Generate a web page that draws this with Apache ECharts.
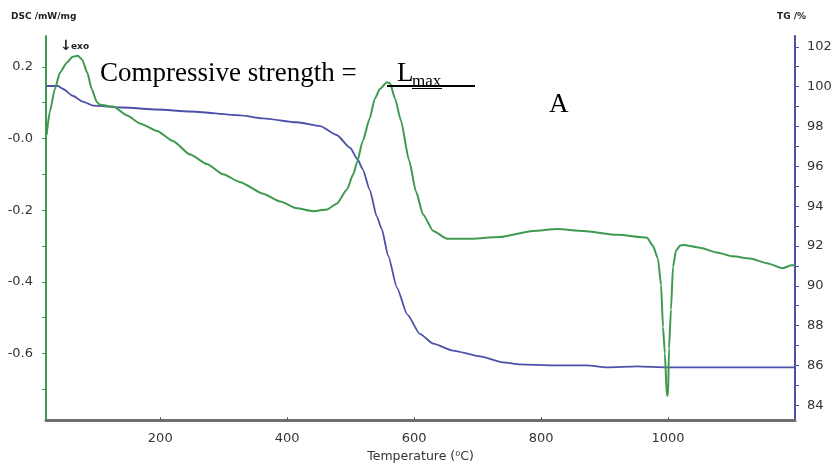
<!DOCTYPE html>
<html>
<head>
<meta charset="utf-8">
<script src="https://cdn.jsdelivr.net/npm/echarts@6/dist/echarts.min.js"></script>
<style>
  html, body { margin: 0; padding: 0; background: #fff; }
  #chart { width: 835px; height: 468px; }
</style>
</head>
<body>
<div id="chart"></div>
<script>
// ---- Data ----
// DSC curve (left axis, mW/mg) vs temperature (°C)
const dscTemp = [21, 26, 34, 42, 53, 62, 70, 77, 85, 92, 100, 105, 126, 148, 168, 195, 220, 247, 274, 299, 326, 362, 389, 415, 441, 463, 478, 494, 504, 510, 519, 530, 538, 546, 557, 562, 570, 579, 592, 603, 614, 630, 652, 683, 735, 787, 825, 866, 920, 967, 976, 984, 989, 992, 995, 998, 1000, 1001.5, 1004.6, 1007.8, 1012.5, 1019, 1024, 1050, 1077, 1102, 1129, 1156, 1180, 1195, 1200];
const dscValue = [0.010, 0.075, 0.138, 0.184, 0.212, 0.228, 0.231, 0.220, 0.184, 0.138, 0.102, 0.094, 0.089, 0.064, 0.042, 0.021, -0.007, -0.045, -0.072, -0.100, -0.122, -0.154, -0.176, -0.195, -0.203, -0.198, -0.182, -0.143, -0.100, -0.067, -0.007, 0.056, 0.111, 0.138, 0.157, 0.154, 0.111, 0.051, -0.061, -0.149, -0.212, -0.258, -0.280, -0.280, -0.275, -0.258, -0.253, -0.258, -0.269, -0.277, -0.299, -0.335, -0.409, -0.526, -0.600, -0.717, -0.717, -0.586, -0.477, -0.359, -0.313, -0.299, -0.297, -0.305, -0.318, -0.329, -0.335, -0.348, -0.362, -0.354, -0.354];

// TG curve (right axis, %) vs temperature (°C)
const tgTemp = [21, 39, 47, 62, 78, 94, 141, 195, 247, 326, 362, 415, 452, 478, 499, 511, 519, 530, 541, 549, 559, 573, 589, 609, 630, 661, 704, 740, 767, 819, 872, 904, 951, 998, 1200];
const tgValue = [100.03, 100.03, 99.88, 99.54, 99.25, 99.05, 98.95, 98.85, 98.75, 98.56, 98.41, 98.21, 98.02, 97.57, 96.93, 96.34, 95.85, 94.82, 93.49, 92.85, 91.52, 89.90, 88.57, 87.59, 87.10, 86.75, 86.46, 86.16, 86.06, 86.01, 86.01, 85.91, 85.96, 85.91, 85.91];

// Tick labels
const xTickValues = [200, 400, 600, 800, 1000];
const xTickLabels = ['200', '400', '600', '800', '1000'];
const dscTickValues = [0.2, 0, -0.2, -0.4, -0.6];
const dscTickLabels = ['0.2', '-0.0', '-0.2', '-0.4', '-0.6'];
const dscMinorTicks = [0.2, 0.1, 0, -0.1, -0.2, -0.3, -0.4, -0.5, -0.6, -0.7];
const tgTickValues = [102, 100, 98, 96, 94, 92, 90, 88, 86, 84];
const tgTickLabels = ['102', '100', '98', '96', '94', '92', '90', '88', '86', '84'];
const tgMinorTicks = [102, 101, 100, 99, 98, 97, 96, 95, 94, 93, 92, 91, 90, 89, 88, 87, 86, 85, 84];

// ---- Chart ----
const GREEN = '#3f9a4f';
const BLUE = '#4c50a8';
const LABEL_FONT = 'DejaVu Sans';

function labelFor(values, labels) {
  return function (v) {
    for (let i = 0; i < values.length; i++) {
      if (Math.abs(values[i] - v) < 1e-6) return labels[i];
    }
    return '';
  };
}

const chart = echarts.init(document.getElementById('chart'), null, { renderer: 'canvas' });

const option = {
  animation: false,
  backgroundColor: '#ffffff',
  grid: { left: 46, right: 40, top: 36, bottom: 40, containLabel: false },
  xAxis: {
    type: 'value',
    min: 20,
    max: 1200,
    name: 'Temperature (\u2070C)',
    nameLocation: 'middle',
    nameGap: 27,
    nameTextStyle: { fontFamily: LABEL_FONT, fontSize: 12.5, color: '#333' },
    axisLine: { show: true, onZero: false, lineStyle: { color: '#6f6f6f', width: 3 } },
    axisTick: { show: true, inside: true, length: 3, customValues: xTickValues, lineStyle: { color: '#555', width: 1 } },
    axisLabel: {
      customValues: xTickValues,
      formatter: labelFor(xTickValues, xTickLabels),
      margin: 12,
      fontFamily: LABEL_FONT, fontSize: 13, color: '#333'
    },
    splitLine: { show: false }
  },
  yAxis: [
    {
      type: 'value',
      position: 'left',
      min: -0.786,
      max: 0.286,
      axisLine: { show: true, onZero: false, lineStyle: { color: GREEN, width: 2 } },
      axisTick: { show: true, inside: false, length: 4, customValues: dscMinorTicks, lineStyle: { color: GREEN, width: 1 } },
      axisLabel: {
        customValues: dscTickValues,
        formatter: labelFor(dscTickValues, dscTickLabels),
        margin: 13,
        fontFamily: LABEL_FONT, fontSize: 13, color: '#333'
      },
      splitLine: { show: false }
    },
    {
      type: 'value',
      position: 'right',
      min: 83.26,
      max: 102.54,
      axisLine: { show: true, onZero: false, lineStyle: { color: BLUE, width: 2 } },
      axisTick: { show: true, inside: false, length: 4, customValues: tgMinorTicks, lineStyle: { color: BLUE, width: 1 } },
      axisLabel: {
        customValues: tgTickValues,
        formatter: labelFor(tgTickValues, tgTickLabels),
        margin: 12,
        fontFamily: LABEL_FONT, fontSize: 13, color: '#333'
      },
      splitLine: { show: false }
    }
  ],
  series: [
    {
      name: 'TG',
      type: 'line',
      yAxisIndex: 1,
      showSymbol: false,
      smooth: 0.2,
      smoothMonotone: 'x',
      lineStyle: { color: BLUE, width: 1.8 },
      data: tgTemp.map((t, i) => [t, tgValue[i]]),
      z: 2
    },
    {
      name: 'DSC',
      type: 'line',
      yAxisIndex: 0,
      showSymbol: false,
      smooth: 0.2,
      smoothMonotone: 'x',
      lineStyle: { color: GREEN, width: 2 },
      data: dscTemp.map((t, i) => [t, dscValue[i]]),
      z: 3
    }
  ],
  graphic: [
    { type: 'text', left: 11, top: 12, style: { text: 'DSC /mW/mg', font: 'bold 9px "DejaVu Sans"', fill: '#222' } },
    { type: 'text', left: 777, top: 12, style: { text: 'TG /%', font: 'bold 9px "DejaVu Sans"', fill: '#222' } },
    { type: 'text', left: 60, top: 39, style: { text: '\u2193', font: 'bold 14px "DejaVu Sans"', fill: '#222' } },
    { type: 'text', left: 71, top: 42, style: { text: 'exo', font: 'bold 9px "DejaVu Sans"', fill: '#222' } },
    { type: 'text', x: 100, y: 87.5, style: { text: 'Compressive strength =', font: '27px "Liberation Serif"', fill: '#000', textVerticalAlign: 'bottom' }, z: 10 },
    { type: 'text', x: 397, y: 87.5, style: { text: 'L', font: '27px "Liberation Serif"', fill: '#000', textVerticalAlign: 'bottom' }, z: 10 },
    { type: 'text', x: 412, y: 90.5, style: { text: 'max', font: '17px "Liberation Serif"', fill: '#000', textVerticalAlign: 'bottom' }, z: 10 },
    { type: 'line', shape: { x1: 387, y1: 86, x2: 475, y2: 86 }, style: { stroke: '#000', lineWidth: 2 }, z: 10 },
    { type: 'line', shape: { x1: 412, y1: 88.5, x2: 442, y2: 88.5 }, style: { stroke: '#000', lineWidth: 1 }, z: 10 },
    { type: 'text', x: 549, y: 118.5, style: { text: 'A', font: '27px "Liberation Serif"', fill: '#000', textVerticalAlign: 'bottom' }, z: 10 }
  ]
};

chart.setOption(option);
</script>
</body>
</html>
